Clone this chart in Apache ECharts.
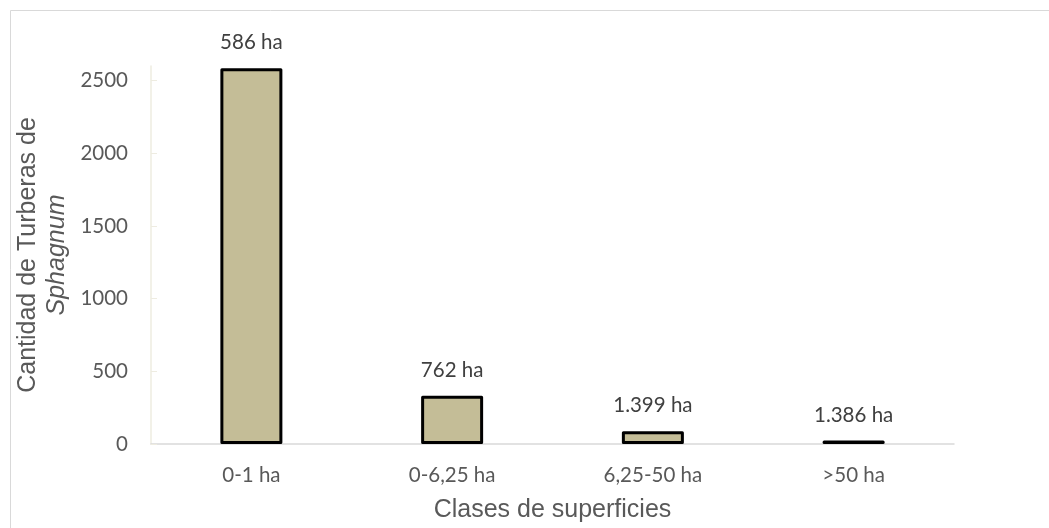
<!DOCTYPE html>
<html>
<head>
<meta charset="utf-8">
<script src="https://cdn.jsdelivr.net/npm/echarts@6/dist/echarts.min.js"></script>
<style>
html, body { margin: 0; padding: 0; background: #ffffff; }
#chart { width: 1049px; height: 528px; }
</style>
</head>
<body>
<div id="chart"></div>
<script>
const categories = ['0-1 ha', '0-6,25 ha', '6,25-50 ha', '>50 ha'];
const counts = [2585, 332, 88, 24];
const areaLabels = ['586 ha', '762 ha', '1.399 ha', '1.386 ha'];
const yTicks = [0, 500, 1000, 1500, 2000, 2500];
const yMax = 2600;

const chart = echarts.init(document.getElementById('chart'), null, { renderer: 'canvas' });

const option = {
  backgroundColor: '#ffffff',
  animation: false,
  graphic: [{
    type: 'rect',
    shape: { x: 10.5, y: 10.5, width: 1100, height: 600 },
    style: { fill: 'none', stroke: '#D9D9D9', lineWidth: 1 },
    silent: true
  }],
  grid: { left: 151, right: 95, top: 66, bottom: 83 },
  xAxis: {
    type: 'category',
    data: categories,
    name: 'Clases de superficies',
    nameLocation: 'middle',
    nameGap: 54,
    nameMoveOverlap: false,
    nameTextStyle: { fontFamily: 'Liberation Sans', fontSize: 25, color: '#595959' },
    axisLine: { show: true, lineStyle: { color: '#D9D9D9', width: 1.5 } },
    axisTick: { show: false },
    axisLabel: { fontFamily: 'Lato', fontSize: 20.5, color: '#595959', margin: 21 },
    splitLine: { show: false }
  },
  yAxis: {
    type: 'value',
    min: 0,
    max: yMax,
    interval: 500,
    name: '{a|Cantidad de Turberas de}\n{b|Sphagnum}',
    nameLocation: 'middle',
    nameRotate: 90,
    nameGap: 79,
    nameMoveOverlap: false,
    nameTextStyle: {
      fontFamily: 'Liberation Sans', fontSize: 25, color: '#595959', lineHeight: 29,
      rich: {
        a: { fontFamily: 'Liberation Sans', fontSize: 25, color: '#595959', lineHeight: 29 },
        b: { fontFamily: 'Liberation Sans', fontSize: 25, color: '#595959', lineHeight: 29, fontStyle: 'italic' }
      }
    },
    axisLine: { show: true, lineStyle: { color: '#EEECE1', width: 1.5 } },
    axisTick: { show: true, inside: true, length: 6, lineStyle: { color: '#EEECE1' }, customValues: yTicks },
    axisLabel: {
      fontFamily: 'Lato', fontSize: 20.5, color: '#595959', margin: 23, customValues: yTicks,
      formatter: function (v) { return String(v); }
    },
    splitLine: { show: false }
  },
  series: [{
    type: 'bar',
    data: counts,
    barWidth: 62,
    itemStyle: { color: '#C4BD97', borderColor: '#000000', borderWidth: 3, borderJoin: 'round' },
    label: {
      show: true,
      position: 'top',
      distance: 15,
      fontFamily: 'Lato',
      fontSize: 20.5,
      color: '#404040',
      formatter: function (p) { return areaLabels[p.dataIndex]; }
    }
  }]
};

chart.setOption(option);
</script>
</body>
</html>
